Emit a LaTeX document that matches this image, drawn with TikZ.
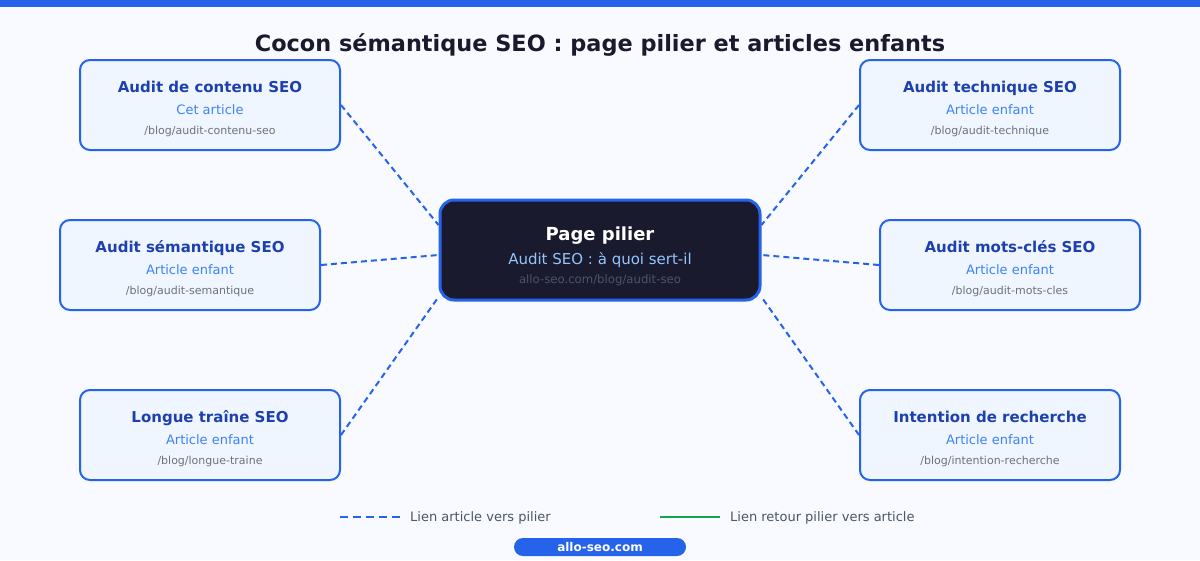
\documentclass[tikz,border=0pt]{standalone}
\usepackage{fontspec}
\setmainfont{DejaVu Sans}
\usetikzlibrary{backgrounds}

\definecolor{seoblue}{HTML}{2563EB}
\definecolor{seonavy}{HTML}{1E40AF}
\definecolor{seolight}{HTML}{3B82F6}
\definecolor{seogray}{HTML}{6B7280}
\definecolor{seoslate}{HTML}{4B5563}
\definecolor{seodark}{HTML}{1A1A2E}
\definecolor{seobg}{HTML}{F8FAFF}
\definecolor{seobox}{HTML}{EFF6FF}
\definecolor{seogreen}{HTML}{16A34A}
\definecolor{seosky}{HTML}{93C5FD}

\tikzset{
  childbox/.style={draw=seoblue, line width=2pt, fill=seobox, rounded corners=10pt,
    minimum width=260pt, minimum height=90pt, inner sep=0pt},
  pillarbox/.style={draw=seoblue, line width=3pt, fill=seodark, rounded corners=14pt,
    minimum width=320pt, minimum height=100pt, inner sep=0pt},
  childtitle/.style={anchor=base, text=seonavy, font=\fontsize{15}{18}\selectfont\bfseries},
  childsub/.style={anchor=base, text=seolight, font=\fontsize{13}{16}\selectfont},
  childurl/.style={anchor=base, text=seogray, font=\fontsize{11}{13}\selectfont},
  linkline/.style={seoblue, line width=2pt, dash pattern=on 6pt off 4pt},
  legendtext/.style={anchor=base west, inner sep=0pt, text=seoslate, font=\fontsize{13}{16}\selectfont},
}

\begin{document}
\begin{tikzpicture}[x=1pt,y=-1pt]

  % Canvas and top bar
  \begin{scope}[on background layer]
    \fill[seobg] (0,0) rectangle (1200,560);
  \end{scope}
  \fill[seoblue] (0,0) rectangle (1200,7);

  \node[anchor=base, text=seodark, font=\fontsize{22.4}{27}\selectfont\bfseries] (title)
    at (600,51) {Cocon sémantique SEO : page pilier et articles enfants};

  % Pillar page in the middle
  \node[pillarbox] (pillar) at (600,250) {};
  \node[anchor=base, text=white, font=\fontsize{18}{22}\selectfont\bfseries] (pillartitle)
    at (600,240) {Page pilier};
  \node[anchor=base, text=seosky, font=\fontsize{15}{18}\selectfont] (pillarsub)
    at (600,264) {Audit SEO : à quoi sert-il};
  \node[anchor=base, text=seoslate, font=\fontsize{11.7}{14}\selectfont] (pillarurl)
    at (600,283) {allo-seo.com/blog/audit-seo};

  % Child articles (name/x/y/title/subtitle/url)
  \foreach \nm/\cx/\cy/\ttl/\sub/\url in {
      contenu/210/105/Audit de contenu SEO/Cet article/{/blog/audit-contenu-seo},
      semantique/190/265/Audit sémantique SEO/Article enfant/{/blog/audit-semantique},
      traine/210/435/Longue traîne SEO/Article enfant/{/blog/longue-traine},
      technique/990/105/Audit technique SEO/Article enfant/{/blog/audit-technique},
      motscles/1010/265/Audit mots-clés SEO/Article enfant/{/blog/audit-mots-cles},
      intention/990/435/Intention de recherche/Article enfant/{/blog/intention-recherche}} {
    \node[childbox] (\nm) at (\cx,\cy) {};
    \node[childtitle] at (\cx,\cy-13) {\ttl};
    \node[childsub] at (\cx,\cy+9) {\sub};
    \node[childurl] at (\cx,\cy+29) {\url};
  }

  % Links from the articles to the pillar
  \begin{scope}[on background layer]
    \draw[linkline] (contenu.east) -- ([yshift=25pt]pillar.west);
    \draw[linkline] (semantique.east) -- ([yshift=-5pt]pillar.west);
    \draw[linkline] (traine.east) -- ([yshift=-47pt]pillar.west);
    \draw[linkline] (technique.west) -- ([yshift=25pt]pillar.east);
    \draw[linkline] (motscles.west) -- ([yshift=-5pt]pillar.east);
    \draw[linkline] (intention.west) -- ([yshift=-47pt]pillar.east);
  \end{scope}

  % Legend
  \coordinate (dashA) at (340,517);
  \coordinate (dashB) at (400,517);
  \coordinate (backA) at (660,517);
  \coordinate (backB) at (720,517);
  \draw[linkline, dash pattern=on 8pt off 5pt] (dashA) -- (dashB);
  \draw[seogreen, line width=2pt] (backA) -- (backB);
  \node[legendtext] (dashlabel) at (410,521.5) {Lien article vers pilier};
  \node[legendtext] (backlabel) at (730,521.5) {Lien retour pilier vers article};

  % Footer badge
  \node[fill=seoblue, rounded corners=9pt, minimum width=172pt, minimum height=18pt,
    inner sep=0pt, text=white, font=\fontsize{12}{14}\selectfont\bfseries] (site)
    at (600,547) {allo-seo.com};

\end{tikzpicture}
\end{document}
